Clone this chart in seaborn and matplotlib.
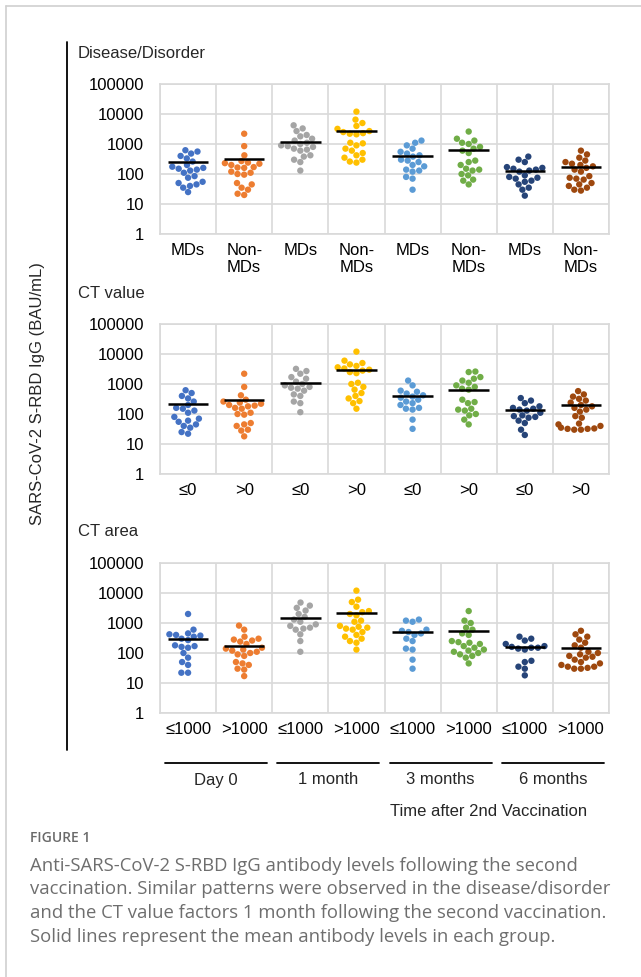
import matplotlib
matplotlib.use("Agg")
import matplotlib.pyplot as plt
import matplotlib.lines as mlines
import matplotlib.transforms as mtransforms
from matplotlib.ticker import NullLocator
import numpy as np
import pandas as pd
import seaborn as sns

# Excel-like colours, one per group (MDs/Non-MDs x 4 time points)
group_colors = ["#4472C4", "#ED7D31", "#A5A5A5", "#FFC000",
                "#5B9BD5", "#70AD47", "#264478", "#9E480E"]
time_points = ["Day 0", "1 month", "3 months", "6 months"]
y_ticks = [1, 10, 100, 1000, 10000, 100000]

panel_titles = ["Disease/Disorder", "CT value", "CT area"]
disease_labels = ["MDs", "Non-\nMDs"] * 4
ct_value_labels = ["≤0", ">0"] * 4
ct_area_labels = ["≤1000", ">1000"] * 4

# values (BAU/mL)
disease_values = [
    [620, 560, 480, 400, 330, 260, 200, 175, 160, 150, 140, 130, 110, 85, 75, 55, 50, 45, 40, 35, 25],
    [2200, 850, 420, 270, 240, 230, 220, 200, 170, 165, 160, 120, 110, 100, 95, 50, 45, 35, 30, 22, 20],
    [4200, 3300, 2700, 2000, 1800, 1500, 1300, 1100, 1000, 900, 850, 800, 700, 650, 600, 420, 380, 300, 250, 130],
    [12000, 6500, 5000, 4000, 3200, 2700, 2500, 2300, 2200, 2100, 1100, 1050, 900, 700, 600, 500, 420, 350, 300, 260, 240],
    [1300, 1100, 900, 700, 550, 480, 420, 380, 300, 280, 250, 200, 180, 140, 130, 120, 80, 70, 30],
    [2600, 1500, 1300, 1100, 1000, 800, 700, 600, 500, 280, 250, 200, 150, 140, 130, 100, 90, 65, 60, 45],
    [380, 300, 250, 170, 160, 150, 140, 130, 120, 90, 80, 75, 70, 60, 55, 45, 35, 30, 19],
    [600, 450, 350, 280, 250, 220, 200, 180, 160, 140, 120, 85, 75, 70, 65, 50, 45, 40, 35, 30, 28],
]
disease_means = [245, 316, 1170, 2770, 400, 630, 130, 175]

ct_value_values = [
    [620, 500, 400, 330, 260, 200, 160, 150, 130, 110, 80, 70, 60, 55, 45, 40, 35, 25, 22],
    [2200, 800, 420, 300, 260, 240, 220, 200, 190, 180, 160, 150, 110, 100, 95, 50, 45, 40, 30, 28, 18],
    [3200, 2700, 2200, 1700, 1500, 1200, 1000, 900, 800, 750, 700, 600, 450, 400, 260, 230, 115],
    [12000, 6000, 5000, 4500, 4000, 3600, 3300, 3000, 2800, 2500, 2300, 1100, 1000, 800, 650, 500, 400, 330, 270, 230, 150],
    [1300, 900, 600, 550, 480, 420, 380, 350, 300, 260, 230, 200, 160, 150, 140, 65, 32],
    [2600, 2500, 1700, 1500, 1300, 1100, 900, 800, 700, 650, 300, 250, 230, 150, 140, 130, 100, 90, 65, 45],
    [340, 280, 230, 180, 160, 150, 140, 130, 110, 90, 85, 80, 75, 60, 50, 30, 20],
    [580, 450, 380, 320, 280, 240, 200, 180, 160, 140, 120, 85, 75, 48, 45, 40, 35, 33, 32, 30, 30, 32],
]
ct_value_means = [220, 290, 1100, 2900, 410, 630, 133, 195]

ct_area_values = [
    [2000, 600, 450, 420, 400, 380, 350, 300, 270, 180, 170, 160, 150, 100, 70, 50, 40, 22, 22],
    [820, 600, 350, 300, 280, 260, 240, 200, 150, 140, 130, 120, 110, 100, 90, 80, 50, 45, 40, 30, 28, 17],
    [4800, 3800, 3200, 2600, 2000, 1600, 1300, 1100, 900, 800, 700, 650, 600, 420, 250, 110],
    [12000, 6000, 5000, 3500, 2500, 2300, 2000, 1800, 1200, 1100, 800, 750, 700, 650, 600, 500, 400, 350, 300, 250, 220, 130],
    [1300, 1200, 1100, 600, 550, 500, 450, 400, 300, 250, 140, 130, 60, 30],
    [2500, 1200, 1000, 700, 600, 450, 400, 250, 230, 220, 200, 170, 150, 130, 120, 110, 100, 90, 80, 70, 45],
    [350, 300, 260, 200, 170, 160, 150, 150, 140, 130, 55, 50, 35, 30, 18],
    [550, 420, 350, 280, 220, 180, 150, 110, 100, 90, 80, 75, 70, 60, 50, 45, 40, 35, 32, 30, 30, 35],
]
ct_area_means = [290, 170, 1500, 2100, 500, 530, 163, 143]

caption_head = "FIGURE 1"
caption_lines = [
    "Anti-SARS-CoV-2 S-RBD IgG antibody levels following the second",
    "vaccination. Similar patterns were observed in the disease/disorder",
    "and the CT value factors 1 month following the second vaccination.",
    "Solid lines represent the mean antibody levels in each group.",
]

sns.set_theme(style="white")
plt.rcParams["font.family"] = ["Liberation Sans", "DejaVu Sans"]

W, H = 641, 977
GRID = "#d9d9d9"
fig = plt.figure(figsize=(W / 100, H / 100), dpi=100)
fig.patch.set_facecolor("white")


def fy(y):
    return 1 - y / H


def make_frame(values):
    rows = []
    for i, vals in enumerate(values):
        for v in vals:
            rows.append({"group": f"g{i}", "igg": v})
    return pd.DataFrame(rows)


order = [f"g{i}" for i in range(8)]
panels = [
    (84, 234, panel_titles[0], disease_labels, disease_values, disease_means),
    (324, 474, panel_titles[1], ct_value_labels, ct_value_values, ct_value_means),
    (563, 713, panel_titles[2], ct_area_labels, ct_area_values, ct_area_means),
]

axes = []
for top, bottom, title, labels, values, means in panels:
    ax = fig.add_axes([160 / W, fy(bottom), 449 / W, (bottom - top) / H])
    df = make_frame(values)
    sns.swarmplot(data=df, x="group", y="igg", hue="group", order=order,
                  hue_order=order, palette=group_colors, size=4.6, linewidth=0,
                  log_scale=True, legend=False, ax=ax, zorder=3)
    xs = np.arange(8)
    ax.hlines(means, xs - 0.36, xs + 0.36, color="black", lw=1.8, zorder=5)
    ax.set_xlim(-0.5, 7.5)
    ax.set_ylim(1, 100000)
    ax.set_yticks(y_ticks)
    ax.set_yticklabels([str(t) for t in y_ticks])
    ax.yaxis.set_minor_locator(NullLocator())
    ax.set_xticks(xs)
    ax.set_xticklabels(labels)
    ax.set_xticks(np.arange(-0.5, 8, 1), minor=True)
    ax.grid(False)
    ax.grid(which="minor", axis="x", color=GRID, lw=1.2)
    ax.grid(which="major", axis="y", color=GRID, lw=1.2)
    ax.set_axisbelow(True)
    ax.tick_params(which="both", length=0, labelsize=12, colors="black")
    ax.tick_params(axis="y", pad=11.5)
    ax.tick_params(axis="x", pad=6.5)
    for s in ax.spines.values():
        s.set_visible(True)
        s.set_color(GRID)
        s.set_linewidth(1.2)
    ax.set_xlabel("")
    ax.set_ylabel("")
    fig.text(78 / W, fy(top - 31), title, ha="left", va="center", fontsize=12)
    axes.append(ax)

# shared y label and its bracket line
fig.text(38 / W, fy(394), "SARS-CoV-2 S-RBD IgG (BAU/mL)", rotation=90,
         ha="center", va="center", fontsize=12)
fig.add_artist(mlines.Line2D([67 / W, 67 / W], [fy(42), fy(750)], color="black",
                             lw=1.3, transform=fig.transFigure))

# time point group lines under the last panel
ax3 = axes[-1]
trans = mtransforms.blended_transform_factory(ax3.transData, fig.transFigure)
for k, name in enumerate(time_points):
    ax3.plot([2 * k - 0.41, 2 * k + 1.41], [fy(763), fy(763)], color="black",
             lw=1.3, transform=trans, clip_on=False)
    ax3.text(2 * k + 0.5, fy(780), name, transform=trans, ha="center",
             va="center", fontsize=12)
fig.text(489 / W, fy(812), "Time after 2nd Vaccination", ha="center",
         va="center", fontsize=12)

# caption
cap_font = ["Open Sans", "DejaVu Sans"]
fig.text(30 / W, fy(838), caption_head, ha="left", va="center", fontsize=10,
         color="#6a6a6a", weight="semibold", family=cap_font)
for i, line in enumerate(caption_lines):
    fig.text(30 / W, fy(866 + 23.5 * i), line, ha="left", va="center",
             fontsize=13.3, color="#6e6e6e", family=cap_font)

# frame lines of the figure card
fig.add_artist(mlines.Line2D([6 / W, 6 / W], [0, fy(6)], color="#d0d0d0", lw=1.2,
                             transform=fig.transFigure))
fig.add_artist(mlines.Line2D([6 / W, 1], [fy(6), fy(6)], color="#d0d0d0", lw=1.2,
                             transform=fig.transFigure))

fig.savefig("out.png", dpi=100)
